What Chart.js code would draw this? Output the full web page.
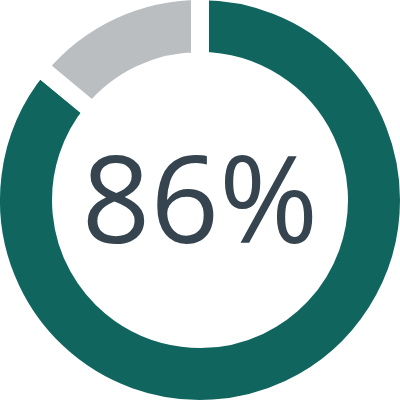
<!DOCTYPE html>
<html>
<head>
<meta charset="utf-8">
<script src="https://cdn.jsdelivr.net/npm/chart.js@4"></script>
<style>
  html, body { margin: 0; padding: 0; background: #fff; overflow: hidden; width: 400px; height: 400px; }
  #wrap { position: absolute; left: -18px; top: -18px; width: 436px; height: 436px; }
</style>
</head>
<body>
<div id="wrap"><canvas id="chartdonut"></canvas></div>
<script>
const labels = ['Yes', 'No'];
const values = [86, 14];
const centerLabel = '86%';

const centerText = {
  id: 'centerText',
  afterDraw(chart) {
    const c = chart.ctx;
    const meta = chart.getDatasetMeta(0).data[0];
    c.save();
    c.font = '120px "Open Sans"';
    c.fillStyle = '#35444f';
    c.textAlign = 'center';
    c.textBaseline = 'alphabetic';
    c.fillText(centerLabel, meta.x, meta.y + 43);
    c.restore();
  }
};

const ctx = document.getElementById('chartdonut').getContext('2d');

const chartdonut = new Chart(ctx, {
  type: 'doughnut',
  data: {
    labels: labels,
    datasets: [{
      data: values,
      backgroundColor: ['#10665f', '#bbbec1'],
      borderColor: '#ffffff',
      borderWidth: 18,
      borderAlign: 'center'
    }]
  },
  options: {
    responsive: true,
    maintainAspectRatio: false,
    animation: false,
    cutout: '66.5%',
    plugins: {
      legend: { display: false },
      tooltip: { enabled: false }
    }
  },
  plugins: [centerText]
});
</script>
</body>
</html>
